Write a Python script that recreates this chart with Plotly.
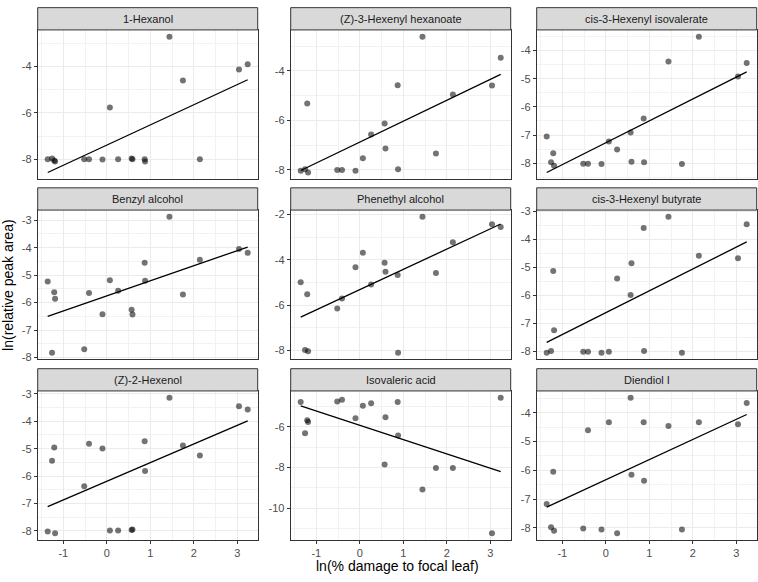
import numpy as np
import plotly.graph_objects as go

# ---- data ----
x_damage = [-1.36, -1.26, -1.21, -1.19, -0.52, -0.41, -0.10, 0.07, 0.26,
            0.57, 0.59, 0.87, 0.88, 1.44, 1.75, 2.14, 3.04, 3.24]

compounds = ["1-Hexanol", "(Z)-3-Hexenyl hexanoate", "cis-3-Hexenyl isovalerate",
             "Benzyl alcohol", "Phenethyl alcohol", "cis-3-Hexenyl butyrate",
             "(Z)-2-Hexenol", "Isovaleric acid", "Diendiol I"]

hexanol = [-8.0, -7.97, -8.05, -8.1, -8.0, -8.0, -8.01, -5.77, -8.0, -7.97, -8.0, -8.0, -8.1, -2.71, -4.6, -8.0, -4.12, -3.9]
hexenyl_hexanoate = [-8.03, -7.97, -5.32, -8.1, -8.0, -8.0, -8.03, -7.53, -6.57, -6.12, -7.13, -4.58, -7.97, -2.62, -7.33, -4.95, -4.59, -3.47]
hexenyl_isovalerate = [-7.05, -7.97, -7.65, -8.09, -8.02, -8.02, -8.03, -7.23, -7.51, -6.91, -7.95, -6.41, -7.97, -4.39, -8.03, -3.51, -4.92, -4.44]
benzyl_alcohol = [-5.23, -7.82, -5.62, -5.86, -7.70, -5.65, -6.42, -5.19, -5.57, -6.26, -6.43, -4.55, -5.2, -2.88, -5.7, -4.44, -4.05, -4.19]
phenethyl_alcohol = [-4.98, -7.97, -5.51, -8.03, -6.14, -5.70, -4.32, -3.68, -5.08, -4.12, -4.52, -4.66, -8.09, -2.1, -4.58, -3.22, -2.43, -2.55]
hexenyl_butyrate = [-8.05, -7.99, -5.13, -7.25, -8.02, -8.02, -8.05, -8.02, -5.4, -5.99, -4.85, -3.59, -7.99, -3.19, -8.05, -4.58, -4.67, -3.45]
z2_hexenol = [-8.02, -5.44, -4.96, -8.08, -6.37, -4.82, -4.99, -7.98, -7.98, -7.97, -7.95, -4.73, -5.81, -3.14, -4.88, -5.25, -3.45, -3.57]
isovaleric_acid = [-4.78, -6.31, -5.68, -5.76, -4.75, -4.67, -5.58, -4.97, -4.84, -7.85, -5.53, -4.78, -6.42, -9.08, -8.02, -8.02, -11.22, -4.57]
diendiol = [-7.17, -7.98, -6.05, -8.1, -8.02, -4.61, -8.05, -4.33, -8.18, -3.48, -6.15, -4.33, -6.36, -4.46, -8.05, -4.33, -4.4, -3.66]

series = [hexanol, hexenyl_hexanoate, hexenyl_isovalerate, benzyl_alcohol,
          phenethyl_alcohol, hexenyl_butyrate, z2_hexenol, isovaleric_acid, diendiol]
y_steps = [2, 2, 1, 1, 2, 1, 1, 2, 1]

x_title = "ln(% damage to focal leaf)"
y_title = "ln(relative peak area)"

# ---- layout geometry (pixels) ----
W, H = 758, 582
col_px = [(37.7, 257.7), (290.7, 510.7), (536.7, 756.7)]
row_px = [(25.3, 177.0), (208.3, 360.0), (392.0, 543.3)]   # plot top, bottom
strip_h = 22.6
FONT = "Liberation Sans, Arial, sans-serif"

def px_x(p):
    return p / W

def px_y(p):
    return 1 - p / H

fig = go.Figure()
xa = np.array(x_damage)
xmin, xmax = xa.min(), xa.max()
xpad = (xmax - xmin) * 0.05
xrange = [xmin - xpad, xmax + xpad]

shapes = []
annotations = []
for i, (name, ys) in enumerate(zip(compounds, series)):
    r, c = divmod(i, 3)
    k = "" if i == 0 else str(i + 1)
    ya = np.array(ys)
    slope, icpt = np.polyfit(xa, ya, 1)
    lx = np.array([xmin, xmax])
    ly = icpt + slope * lx
    lo = min(ya.min(), ly.min())
    hi = max(ya.max(), ly.max())
    pad = (hi - lo) * 0.05
    yr = [lo - pad, hi + pad]
    step = y_steps[i]
    tv = [v for v in np.arange(np.ceil(yr[0] / step) * step, yr[1] + 1e-9, step)]
    tt = [str(int(round(v))) for v in tv]
    mv = [v for v in np.arange(np.ceil(yr[0] / (step / 2)) * (step / 2), yr[1] + 1e-9, step / 2)]

    fig.add_trace(go.Scatter(x=x_damage, y=ys, mode="markers",
                             marker=dict(size=6, color="rgba(0,0,0,0.55)", line=dict(width=0)),
                             xaxis="x" + k, yaxis="y" + k, showlegend=False, hoverinfo="x+y"))
    fig.add_trace(go.Scatter(x=lx, y=ly, mode="lines", line=dict(color="black", width=1.3),
                             xaxis="x" + k, yaxis="y" + k, showlegend=False))

    x0, x1 = col_px[c]
    t, b = row_px[r]
    bottom = (r == 2)
    fig.update_layout(**{
        "xaxis" + k: dict(domain=[px_x(x0), px_x(x1)], anchor="y" + k, range=xrange,
                          tickmode="array", tickvals=[-1, 0, 1, 2, 3],
                          ticktext=["-1", "0", "1", "2", "3"],
                          showticklabels=bottom, ticks="outside" if bottom else "",
                          ticklen=3, tickcolor="#333333", tickwidth=1,
                          showgrid=True, gridcolor="#EBEBEB", gridwidth=1,
                          minor=dict(tickmode="array", tickvals=[-1.5, -0.5, 0.5, 1.5, 2.5],
                                     showgrid=True, gridcolor="#F2F2F2", gridwidth=0.6),
                          zeroline=False, showline=True, mirror=True,
                          linecolor="#333333", linewidth=1,
                          tickfont=dict(family=FONT, size=11, color="#4D4D4D")),
        "yaxis" + k: dict(domain=[px_y(b), px_y(t)], anchor="x" + k, range=yr,
                          tickmode="array", tickvals=tv, ticktext=tt,
                          ticks="outside", ticklen=3, tickcolor="#333333", tickwidth=1,
                          showgrid=True, gridcolor="#EBEBEB", gridwidth=1,
                          minor=dict(tickmode="array", tickvals=mv,
                                     showgrid=True, gridcolor="#F2F2F2", gridwidth=0.6),
                          zeroline=False, showline=True, mirror=True,
                          linecolor="#333333", linewidth=1,
                          tickfont=dict(family=FONT, size=11, color="#4D4D4D")),
    })
    shapes.append(dict(type="rect", xref="paper", yref="paper",
                       x0=px_x(x0), x1=px_x(x1), y0=px_y(t), y1=px_y(t - strip_h),
                       fillcolor="#D9D9D9", line=dict(color="#333333", width=1), layer="above"))
    annotations.append(dict(xref="paper", yref="paper", x=px_x((x0 + x1) / 2),
                            y=px_y(t - strip_h / 2), text=name, showarrow=False,
                            xanchor="center", yanchor="middle",
                            font=dict(family=FONT, size=11, color="#1A1A1A")))

annotations.append(dict(xref="paper", yref="paper", x=px_x((col_px[0][0] + col_px[2][1]) / 2),
                        y=px_y(569.5), text=x_title, showarrow=False,
                        xanchor="center", yanchor="middle",
                        font=dict(family=FONT, size=14, color="black")))
annotations.append(dict(xref="paper", yref="paper", x=px_x(8), y=px_y((row_px[0][0] + row_px[2][1]) / 2),
                        text=y_title, showarrow=False, textangle=-90,
                        xanchor="center", yanchor="middle",
                        font=dict(family=FONT, size=14, color="black")))

fig.update_layout(width=W, height=H, margin=dict(l=0, r=0, t=0, b=0),
                  paper_bgcolor="white", plot_bgcolor="white",
                  shapes=shapes, annotations=annotations, showlegend=False)

fig.write_html("out.html", config={"displayModeBar": False},
               post_script="document.body.style.margin='0px';document.body.style.overflow='hidden';")
